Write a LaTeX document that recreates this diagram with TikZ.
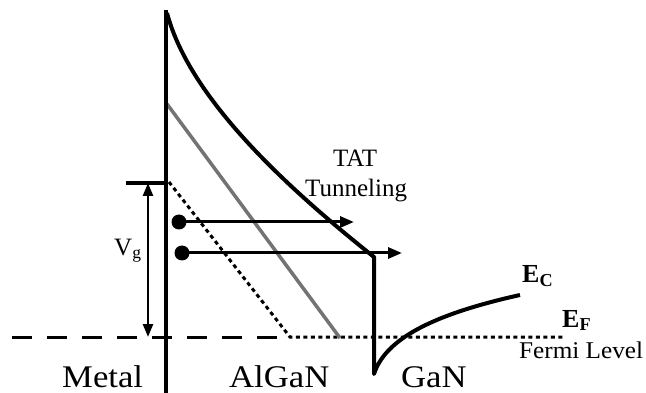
\documentclass[tikz,border=0pt]{standalone}
\usepackage{fontspec}
\setmainfont{Liberation Serif}
\newfontfamily\widefont[FakeStretch=1.1]{Liberation Serif}
\newfontfamily\widerfont[FakeStretch=1.05]{Liberation Serif}
\usetikzlibrary{arrows.meta}
\tikzset{
  lbl/.style={inner sep=0pt, anchor=base west, font=\widefont\fontsize{31.5}{31.5}\selectfont},
  smalllbl/.style={inner sep=0pt, anchor=base west, font=\fontsize{25}{25}\selectfont},
  bandlbl/.style={inner sep=0pt, anchor=base west, font=\fontsize{26}{26}\selectfont\bfseries},
  band/.style={line width=4pt, line join=round},
  elec/.style={circle, fill=black, minimum size=15pt, inner sep=0pt},
  tunarrow/.style={line width=3pt, -{Triangle[length=14pt,width=11pt]}},
}
\begin{document}
\begin{tikzpicture}[x=1pt,y=-1pt]
\useasboundingbox (0,0) rectangle (646,393);
% coordinates
\coordinate (mtop) at (166,10);
\coordinate (mbot) at (166,393);
\coordinate (ectop) at (167,13);
\coordinate (ecend) at (374,257);
\coordinate (ganbot) at (374,374);
\coordinate (ganend) at (520,295);
\coordinate (graytop) at (167,104);
\coordinate (graybot) at (340,338);
\coordinate (dottop) at (169,182);
\coordinate (dotcorner) at (290,337);
\coordinate (dotend) at (565,337);
\coordinate (fleft) at (12,337);
\coordinate (vgleft) at (126,183);
\coordinate (vgright) at (166,183);
\coordinate (vgtop) at (148,183);
\coordinate (vgbot) at (148,337);
\coordinate (a1end) at (354,222);
\coordinate (a2end) at (402,253);
% Fermi level (metal) dashed
\draw[line width=3pt, dash pattern=on 20pt off 15pt] (fleft) -- (dotcorner);
% dotted
\draw[line width=3pt, dash pattern=on 4pt off 3.5pt] (dottop) -- (dotcorner) -- (dotend);
% gray line
\draw[line width=3.5pt, color=black!55] (graytop) -- (graybot);
% metal line
\draw[line width=4.5pt] (mtop) -- (mbot);
% conduction band
\draw[band] (ectop) .. controls (190,100) and (290,190) .. (ecend) -- (ganbot)
  .. controls (385,340) and (430,315) .. (ganend);
% Vg
\draw[line width=4pt] (vgleft) -- (vgright);
\draw[line width=2.5pt, {Triangle[length=13pt,width=10pt]}-{Triangle[length=13pt,width=10pt]}] (vgtop) -- (vgbot);
% electrons and tunneling arrows
\node[elec] (e1) at (179,222) {};
\node[elec] (e2) at (182,253) {};
\draw[tunarrow] (e1.center) -- (a1end);
\draw[tunarrow] (e2.center) -- (a2end);
% labels
\node[lbl] (metal) at (62,387) {Metal};
\node[lbl] (algan) at (229,387) {AlGaN};
\node[lbl] (gan) at (401,387) {GaN};
\node[smalllbl] (tat) at (333,167) {TAT};
\node[smalllbl] (tun) at (305,197) {Tunneling};
\node[inner sep=0pt, anchor=base west, font=\widerfont\fontsize{24}{24}\selectfont] (fermi) at (519,358) {Fermi Level};
\node[inner sep=0pt, anchor=base west, font=\fontsize{25}{25}\selectfont] (vg) at (114,255) {V\textsubscript{g}};
\node[bandlbl] (ec) at (522,283) {E\textsubscript{C}};
\node[bandlbl] (ef) at (562,327) {E\textsubscript{F}};
\end{tikzpicture}
\end{document}
